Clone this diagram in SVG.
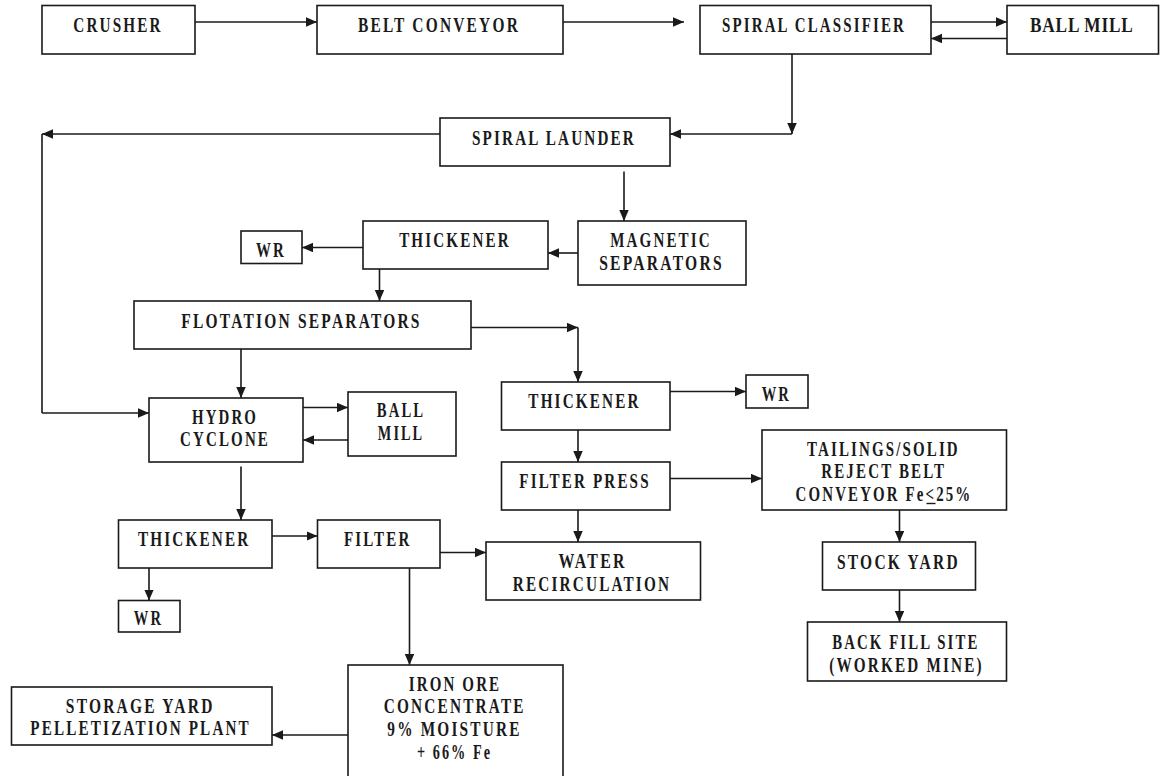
<svg xmlns="http://www.w3.org/2000/svg" width="1160" height="776" viewBox="0 0 1160 776">
<style>
.box{fill:#fff;stroke:#1a1a1a;stroke-width:1.6}
.t{font-family:"Liberation Serif","Times New Roman",serif;font-weight:bold;font-size:21px;letter-spacing:3px;fill:#1a1a1a;text-anchor:middle}
.s{text-anchor:start}
.c{fill:none;stroke:#1a1a1a;stroke-width:1.6}
.u{stroke:#1a1a1a;stroke-width:1.4}
</style>
<defs>
<marker id="ah" markerUnits="userSpaceOnUse" markerWidth="12" markerHeight="10" refX="11" refY="4.75" orient="auto">
<path d="M0,0 L11,4.75 L0,9.5 z" fill="#1a1a1a"/>
</marker>
</defs>
<rect width="1160" height="776" fill="#fff"/>
<g id="connectors">
<line class="c" x1="195" y1="22" x2="317" y2="22" marker-end="url(#ah)"/>
<line class="c" x1="563" y1="22" x2="684" y2="22" marker-end="url(#ah)"/>
<line class="c" x1="931" y1="22" x2="1007" y2="22" marker-end="url(#ah)"/>
<line class="c" x1="1007" y1="38.5" x2="931" y2="38.5" marker-end="url(#ah)"/>
<line class="c" x1="792" y1="54" x2="792" y2="134" marker-end="url(#ah)"/>
<line class="c" x1="792" y1="134" x2="670" y2="134" marker-end="url(#ah)"/>
<line class="c" x1="440" y1="134" x2="42" y2="134" marker-end="url(#ah)"/>
<line class="c" x1="42" y1="134" x2="42" y2="413"/>
<line class="c" x1="42" y1="413" x2="149" y2="413" marker-end="url(#ah)"/>
<line class="c" x1="624" y1="171.5" x2="624" y2="221" marker-end="url(#ah)"/>
<line class="c" x1="578" y1="253" x2="548" y2="253" marker-end="url(#ah)"/>
<line class="c" x1="363" y1="247.5" x2="302" y2="247.5" marker-end="url(#ah)"/>
<line class="c" x1="379.5" y1="269" x2="379.5" y2="301" marker-end="url(#ah)"/>
<line class="c" x1="471" y1="327.5" x2="578" y2="327.5" marker-end="url(#ah)"/>
<line class="c" x1="578" y1="327.5" x2="578" y2="382" marker-end="url(#ah)"/>
<line class="c" x1="241" y1="349" x2="241" y2="398" marker-end="url(#ah)"/>
<line class="c" x1="303" y1="407.5" x2="348" y2="407.5" marker-end="url(#ah)"/>
<line class="c" x1="348" y1="440" x2="303" y2="440" marker-end="url(#ah)"/>
<line class="c" x1="670" y1="391.5" x2="746" y2="391.5" marker-end="url(#ah)"/>
<line class="c" x1="578" y1="430" x2="578" y2="462" marker-end="url(#ah)"/>
<line class="c" x1="670" y1="478.5" x2="762" y2="478.5" marker-end="url(#ah)"/>
<line class="c" x1="578" y1="510" x2="578" y2="542" marker-end="url(#ah)"/>
<line class="c" x1="899.5" y1="510" x2="899.5" y2="542" marker-end="url(#ah)"/>
<line class="c" x1="899.5" y1="590" x2="899.5" y2="622" marker-end="url(#ah)"/>
<line class="c" x1="241" y1="466.5" x2="241" y2="520" marker-end="url(#ah)"/>
<line class="c" x1="272" y1="536" x2="317.5" y2="536" marker-end="url(#ah)"/>
<line class="c" x1="440" y1="552.5" x2="486" y2="552.5" marker-end="url(#ah)"/>
<line class="c" x1="149" y1="568" x2="149" y2="600.5" marker-end="url(#ah)"/>
<line class="c" x1="409.5" y1="568" x2="409.5" y2="665" marker-end="url(#ah)"/>
<line class="c" x1="348" y1="735" x2="272" y2="735" marker-end="url(#ah)"/>
</g>
<g id="crusher"><rect class="box" x="42" y="5.5" width="153" height="48.5"/><text class="t" x="118" y="32" textLength="89.5" lengthAdjust="spacingAndGlyphs">CRUSHER</text></g>
<g id="belt-conveyor"><rect class="box" x="317" y="5.5" width="246" height="48.5"/><text class="t" x="439" y="32" textLength="162" lengthAdjust="spacingAndGlyphs">BELT CONVEYOR</text></g>
<g id="spiral-classifier"><rect class="box" x="700" y="5.5" width="231" height="48.5"/><text class="t" x="814" y="32" textLength="184" lengthAdjust="spacingAndGlyphs">SPIRAL CLASSIFIER</text></g>
<g id="ball-mill-1"><rect class="box" x="1007" y="5.5" width="151.5" height="48.5"/><text class="t s" x="1030" y="32" style="letter-spacing:1px" textLength="103.6" lengthAdjust="spacingAndGlyphs">BALL MILL</text></g>
<g id="spiral-launder"><rect class="box" x="440" y="118" width="230" height="48"/><text class="t" x="554" y="145" textLength="164" lengthAdjust="spacingAndGlyphs">SPIRAL LAUNDER</text></g>
<g id="magnetic-separators"><rect class="box" x="578" y="221" width="168" height="64"/><text class="t" x="661" y="246.5" textLength="101.7" lengthAdjust="spacingAndGlyphs">MAGNETIC</text><text class="t" x="661.5" y="270" textLength="124.7" lengthAdjust="spacingAndGlyphs">SEPARATORS</text></g>
<g id="thickener-1"><rect class="box" x="363" y="221" width="185" height="48"/><text class="t" x="455" y="246.5" textLength="111.7" lengthAdjust="spacingAndGlyphs">THICKENER</text></g>
<g id="wr-1"><rect class="box" x="241" y="231" width="61" height="32.5"/><text class="t" x="271" y="257" textLength="30" lengthAdjust="spacingAndGlyphs">WR</text></g>
<g id="flotation-separators"><rect class="box" x="134" y="301" width="337" height="48"/><text class="t" x="301.5" y="328" textLength="240.4" lengthAdjust="spacingAndGlyphs">FLOTATION SEPARATORS</text></g>
<g id="hydro-cyclone"><rect class="box" x="149" y="398" width="154" height="64"/><text class="t" x="225" y="424" textLength="66" lengthAdjust="spacingAndGlyphs">HYDRO</text><text class="t" x="225" y="446" textLength="90" lengthAdjust="spacingAndGlyphs">CYCLONE</text></g>
<g id="ball-mill-2"><rect class="box" x="348" y="392" width="108" height="64"/><text class="t" x="401" y="417" textLength="48.3" lengthAdjust="spacingAndGlyphs">BALL</text><text class="t" x="401" y="439.5" textLength="46.3" lengthAdjust="spacingAndGlyphs">MILL</text></g>
<g id="thickener-2"><rect class="box" x="501.5" y="382" width="168.5" height="48"/><text class="t" x="584.5" y="407.5" textLength="112.3" lengthAdjust="spacingAndGlyphs">THICKENER</text></g>
<g id="wr-2"><rect class="box" x="746" y="375" width="62" height="33"/><text class="t" x="776.3" y="400.5" textLength="29.3" lengthAdjust="spacingAndGlyphs">WR</text></g>
<g id="filter-press"><rect class="box" x="501.5" y="462" width="168.5" height="48"/><text class="t" x="585" y="487.5" textLength="131.4" lengthAdjust="spacingAndGlyphs">FILTER PRESS</text></g>
<g id="tailings"><rect class="box" x="762" y="430" width="244.5" height="80"/><text class="t" x="883.4" y="455.5" textLength="152.8" lengthAdjust="spacingAndGlyphs">TAILINGS/SOLID</text><text class="t" x="883.7" y="478.3" textLength="125" lengthAdjust="spacingAndGlyphs">REJECT BELT</text><text class="t" x="884" y="500.7" textLength="176.8" lengthAdjust="spacingAndGlyphs">CONVEYOR Fe&lt;25%</text><line class="u" x1="926.5" y1="503.5" x2="935.5" y2="503.5"/></g>
<g id="water-recirculation"><rect class="box" x="486" y="542" width="214.5" height="58"/><text class="t" x="592.6" y="567.7" textLength="68.4" lengthAdjust="spacingAndGlyphs">WATER</text><text class="t" x="592" y="590.7" textLength="158.3" lengthAdjust="spacingAndGlyphs">RECIRCULATION</text></g>
<g id="stock-yard"><rect class="box" x="822.5" y="542" width="153" height="48"/><text class="t" x="898.4" y="569" textLength="122.8" lengthAdjust="spacingAndGlyphs">STOCK YARD</text></g>
<g id="back-fill-site"><rect class="box" x="807.5" y="622" width="199" height="59"/><text class="t" x="905.8" y="649.3" textLength="147.2" lengthAdjust="spacingAndGlyphs">BACK FILL SITE</text><text class="t" x="906.5" y="671.7" textLength="154.6" lengthAdjust="spacingAndGlyphs">(WORKED MINE)</text></g>
<g id="thickener-3"><rect class="box" x="118.5" y="520" width="153.5" height="48"/><text class="t" x="194.2" y="546" textLength="112.5" lengthAdjust="spacingAndGlyphs">THICKENER</text></g>
<g id="filter"><rect class="box" x="317.5" y="520" width="122.5" height="48"/><text class="t" x="377.7" y="546" textLength="67.4" lengthAdjust="spacingAndGlyphs">FILTER</text></g>
<g id="wr-3"><rect class="box" x="118.5" y="600.5" width="61.5" height="31.5"/><text class="t" x="148.5" y="625.3" textLength="29.3" lengthAdjust="spacingAndGlyphs">WR</text></g>
<g id="iron-ore-concentrate"><rect class="box" x="348" y="665" width="215" height="125"/><text class="t" x="455" y="691" textLength="92.5" lengthAdjust="spacingAndGlyphs">IRON ORE</text><text class="t" x="454.7" y="713.3" textLength="142" lengthAdjust="spacingAndGlyphs">CONCENTRATE</text><text class="t" x="454.5" y="735.7" textLength="134.3" lengthAdjust="spacingAndGlyphs">9% MOISTURE</text><text class="t" x="454.5" y="759" textLength="75" lengthAdjust="spacingAndGlyphs">+ 66% Fe</text></g>
<g id="storage-yard"><rect class="box" x="11.5" y="687" width="260.5" height="58"/><text class="t" x="140.2" y="713.3" textLength="148.7" lengthAdjust="spacingAndGlyphs">STORAGE YARD</text><text class="t" x="140.6" y="735" textLength="220.5" lengthAdjust="spacingAndGlyphs">PELLETIZATION PLANT</text></g>
</svg>
